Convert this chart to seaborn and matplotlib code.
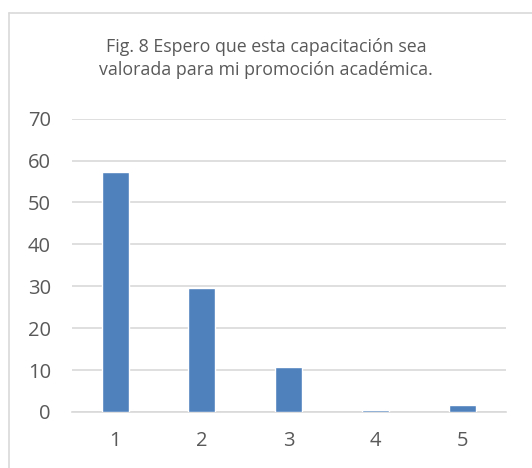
import matplotlib
matplotlib.use("Agg")
import matplotlib.pyplot as plt
import seaborn as sns
import pandas as pd
from matplotlib.lines import Line2D

categories = ["1", "2", "3", "4", "5"]
values = [57.2, 29.6, 10.7, 0.4, 1.7]
yticks = [0, 10, 20, 30, 40, 50, 60, 70]
title = "Fig. 8 Espero que esta capacitación sea\nvalorada para mi promoción académica."

sns.set_style("white")
plt.rcParams['font.family'] = ['Open Sans', 'DejaVu Sans']

text_color = "#595959"
grid_color = "#D9D9D9"
bar_color = "#4F81BD"

fig = plt.figure(figsize=(5.32, 4.68), dpi=100)
ax = fig.add_axes([0.1348, 0.1197, 0.8158, 0.6267])

df = pd.DataFrame({"cat": categories, "val": values})
sns.barplot(data=df, x="cat", y="val", color=bar_color, width=0.31,
            saturation=1, ax=ax, zorder=3)

ax.set_ylim(0, 70)
ax.set_xlim(-0.5, 4.5)
ax.set_yticks(yticks)
ax.set_yticklabels([str(t) for t in yticks])
ax.yaxis.grid(True, color=grid_color, linewidth=1.2, zorder=0)
ax.set_axisbelow(True)
for s in ["top", "right", "left"]:
    ax.spines[s].set_visible(False)
ax.spines["bottom"].set_color(grid_color)
ax.spines["bottom"].set_linewidth(1.2)
ax.set_xlabel("")
ax.set_ylabel("")
ax.tick_params(axis="both", length=0, labelsize=14.5, colors=text_color)
ax.tick_params(axis="y", pad=15)
ax.tick_params(axis="x", pad=14)

fig.text(0.5, 0.875, title, ha="center", va="center", fontsize=12.8,
         color=text_color, linespacing=1.35)

# chart border (top and left visible)
fig.add_artist(Line2D([9/532, 1.0], [1 - 13/468, 1 - 13/468],
                      transform=fig.transFigure, color="#D9D9D9", linewidth=1.2))
fig.add_artist(Line2D([9/532, 9/532], [0, 1 - 13/468],
                      transform=fig.transFigure, color="#D9D9D9", linewidth=1.2))

fig.savefig("out.png", dpi=100)
